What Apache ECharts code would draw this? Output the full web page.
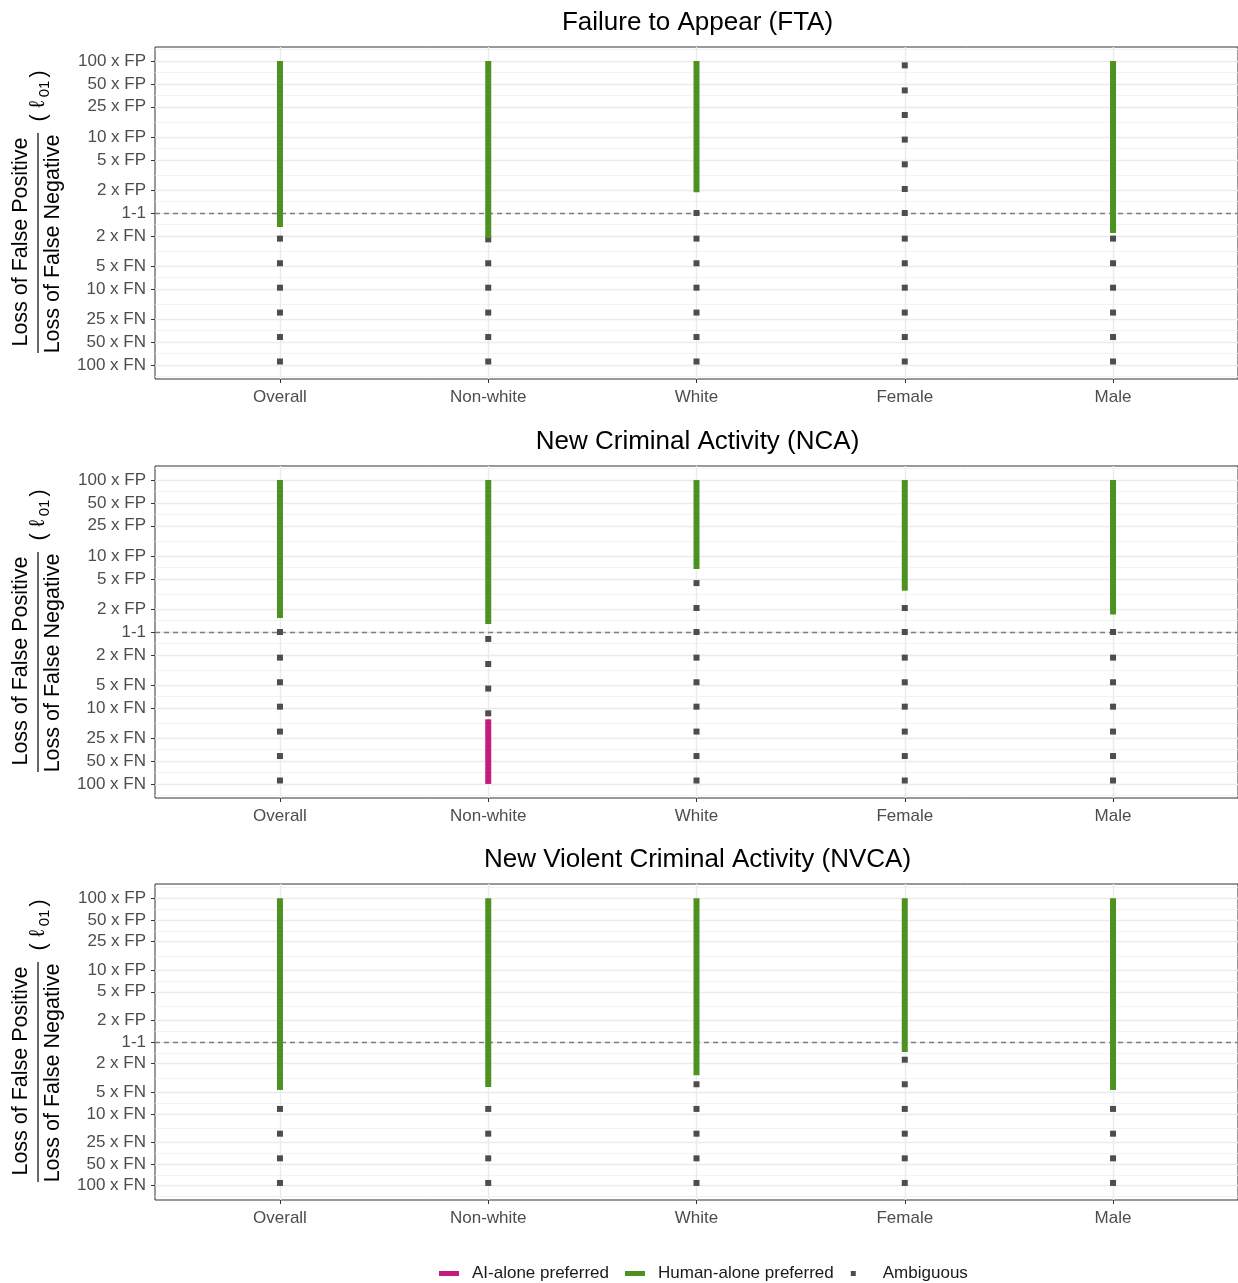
<!DOCTYPE html>
<html>
<head>
<meta charset="utf-8">
<script src="https://cdn.jsdelivr.net/npm/echarts@6/dist/echarts.min.js"></script>
<style>
html,body{margin:0;padding:0;background:#ffffff;}
#chart{width:1238px;height:1283px;}
</style>
</head>
<body>
<div id="chart"></div>
<script>
// ---------------- DATA ----------------
const categories = ['Overall', 'Non-white', 'White', 'Female', 'Male'];
const panelTitles = ['Failure to Appear (FTA)', 'New Criminal Activity (NCA)', 'New Violent Criminal Activity (NVCA)'];
const tickRatios = [100, 50, 25, 10, 5, 2, 1, 0.5, 0.2, 0.1, 0.04, 0.02, 0.01];
const tickLabels = ['100 x FP', '50 x FP', '25 x FP', '10 x FP', '5 x FP', '2 x FP', '1-1',
                    '2 x FN', '5 x FN', '10 x FN', '25 x FN', '50 x FN', '100 x FN'];
const refRatio = 1;
const legendNames = ['AI-alone preferred', 'Human-alone preferred', 'Ambiguous'];

// Ratio ranges [low, high] (loss FP / loss FN); null = none
const ftaHuman = [[0.655, 100], [0.47, 100], [1.87, 100], null, [0.545, 100]];
const ftaAI = [null, null, null, null, null];
const ftaAmbiguous = [
  [0.46, 0.218, 0.104, 0.0489, 0.0233, 0.0111],
  [0.45, 0.218, 0.104, 0.0489, 0.0233, 0.0111],
  [1, 0.46, 0.218, 0.104, 0.0489, 0.0233, 0.0111],
  [87.8, 41.1, 19.5, 9.25, 4.37, 2.07, 1, 0.46, 0.218, 0.104, 0.0489, 0.0233, 0.0111],
  [0.46, 0.218, 0.104, 0.0489, 0.0233, 0.0111]
];

const ncaHuman = [[1.53, 100], [1.27, 100], [6.75, 100], [3.5, 100], [1.7, 100]];
const ncaAI = [null, [0.01, 0.071], null, null, null];
const ncaAmbiguous = [
  [1, 0.46, 0.218, 0.104, 0.0489, 0.0233, 0.0111],
  [0.81, 0.379, 0.18, 0.085],
  [4.4, 2.07, 1, 0.46, 0.218, 0.104, 0.0489, 0.0233, 0.0111],
  [2.07, 1, 0.46, 0.218, 0.104, 0.0489, 0.0233, 0.0111],
  [1, 0.46, 0.218, 0.104, 0.0489, 0.0233, 0.0111]
];

const nvcaHuman = [[0.215, 100], [0.236, 100], [0.344, 100], [0.726, 100], [0.215, 100]];
const nvcaAI = [null, null, null, null, null];
const nvcaAmbiguous = [
  [0.117, 0.0529, 0.024, 0.0109],
  [0.117, 0.0529, 0.024, 0.0109],
  [0.258, 0.117, 0.0529, 0.024, 0.0109],
  [0.567, 0.258, 0.117, 0.0529, 0.024, 0.0109],
  [0.117, 0.0529, 0.024, 0.0109]
];

// ---------------- LAYOUT / STYLE ----------------
const panelData = [
  {human: ftaHuman, ai: ftaAI, amb: ftaAmbiguous},
  {human: ncaHuman, ai: ncaAI, amb: ncaAmbiguous},
  {human: nvcaHuman, ai: nvcaAI, amb: nvcaAmbiguous}
];
const panels = [
  {top: 47, height: 332, ext: 2.185},
  {top: 466, height: 332, ext: 2.185},
  {top: 884, height: 316, ext: 2.2}
];
const LEFT = 155;
const FONT = '"Liberation Sans", Arial, Helvetica, sans-serif';
const COL_AI = '#C51B7D', COL_HUMAN = '#4D9221', COL_AMB = '#4D4D4D';

const lg = v => Math.log10(v);
const tickLogs = tickRatios.map(lg);
const minorLogs = [];
minorLogs.push(tickLogs[0] + (tickLogs[0] - tickLogs[1]) / 2);
for (let i = 0; i < tickLogs.length - 1; i++) minorLogs.push((tickLogs[i] + tickLogs[i + 1]) / 2);
const nT = tickLogs.length;
minorLogs.push(tickLogs[nT - 1] + (tickLogs[nT - 1] - tickLogs[nT - 2]) / 2);
const catIdx = categories.map((c, i) => i);

function tickLabelFor(v) {
  for (let i = 0; i < tickLogs.length; i++) if (Math.abs(tickLogs[i] - v) < 1e-6) return tickLabels[i];
  return '';
}

function barRender(params, api) {
  const x = api.value(0);
  const top = api.coord([x, api.value(2)]);
  const bot = api.coord([x, api.value(1)]);
  const w = 6;
  return {
    type: 'rect',
    shape: {x: top[0] - w / 2, y: top[1], width: w, height: bot[1] - top[1]},
    style: {fill: api.visual('color')}
  };
}

const grids = [], xAxes = [], yAxes = [], series = [], titles = [], graphics = [];

panels.forEach((p, k) => {
  grids.push({left: LEFT, right: 0, top: p.top, height: p.height, show: true,
              borderColor: '#333333', borderWidth: 1, backgroundColor: 'transparent'});
  xAxes.push({
    type: 'value', gridIndex: k, min: -0.6, max: 4.6, position: 'bottom',
    axisLine: {show: false, onZero: false},
    axisTick: {show: true, length: 4, customValues: catIdx, lineStyle: {color: '#333333', width: 1}},
    axisLabel: {show: true, customValues: catIdx, margin: 10, color: '#4D4D4D', fontSize: 17, fontFamily: FONT,
                formatter: v => categories[Math.round(v)]},
    splitLine: {show: true, customValues: catIdx, lineStyle: {color: '#EBEBEB', width: 1.4}}
  });
  yAxes.push({
    type: 'value', gridIndex: k, min: -p.ext, max: p.ext, position: 'left',
    axisLine: {show: false, onZero: false},
    axisTick: {show: true, length: 4, customValues: tickLogs, lineStyle: {color: '#333333', width: 1}},
    axisLabel: {show: true, customValues: tickLogs, margin: 9, color: '#4D4D4D', fontSize: 17, fontFamily: FONT,
                formatter: v => tickLabelFor(v)},
    splitLine: {show: true, customValues: tickLogs, lineStyle: {color: '#EBEBEB', width: 1.4}}
  });
  yAxes.push({
    type: 'value', gridIndex: k, min: -p.ext, max: p.ext, position: 'right',
    axisLine: {show: false, onZero: false},
    axisTick: {show: false, customValues: minorLogs},
    axisLabel: {show: false, customValues: minorLogs},
    splitLine: {show: true, customValues: minorLogs, lineStyle: {color: '#F0F0F0', width: 0.8}}
  });

  const d = panelData[k];
  const aiData = [], humanData = [], ambData = [];
  catIdx.forEach(i => {
    if (d.ai[i]) aiData.push([i, lg(d.ai[i][0]), lg(d.ai[i][1])]);
    if (d.human[i]) humanData.push([i, lg(d.human[i][0]), lg(d.human[i][1])]);
    d.amb[i].forEach(v => ambData.push([i, lg(v)]));
  });

  series.push({
    name: legendNames[2], type: 'scatter', xAxisIndex: k, yAxisIndex: 2 * k,
    symbol: 'rect', symbolSize: 6, itemStyle: {color: COL_AMB, opacity: 1}, z: 3, silent: true,
    data: ambData,
    markLine: {
      silent: true, z: 1, symbol: 'none', label: {show: false},
      lineStyle: {color: '#7F7F7F', width: 1.3, type: [5, 4]},
      emphasis: {disabled: true},
      data: [{yAxis: lg(refRatio)}]
    }
  });
  series.push({
    name: legendNames[0], type: 'custom', xAxisIndex: k, yAxisIndex: 2 * k,
    itemStyle: {color: COL_AI}, z: 4, silent: true,
    encode: {x: 0, y: [1, 2]}, renderItem: barRender, data: aiData
  });
  series.push({
    name: legendNames[1], type: 'custom', xAxisIndex: k, yAxisIndex: 2 * k,
    itemStyle: {color: COL_HUMAN}, z: 4, silent: true,
    encode: {x: 0, y: [1, 2]}, renderItem: barRender, data: humanData
  });

  titles.push({
    text: panelTitles[k], left: LEFT + 1083 / 2 - 4, textAlign: 'center', top: p.top - 42,
    textStyle: {color: '#000000', fontSize: 26, fontWeight: 'normal', fontFamily: FONT}
  });

  const cy = p.top + p.height / 2;
  const tFont = {fontSize: 21.5, fontFamily: FONT, fill: '#000000', align: 'center', verticalAlign: 'middle'};
  graphics.push({type: 'text', x: 21, y: cy + 29, rotation: Math.PI / 2,
                 style: Object.assign({text: 'Loss of False Positive'}, tFont)});
  graphics.push({type: 'text', x: 53, y: cy + 31, rotation: Math.PI / 2,
                 style: Object.assign({text: 'Loss of False Negative'}, tFont)});
  graphics.push({type: 'line', shape: {x1: 38, y1: cy - 80, x2: 38, y2: cy + 140},
                 style: {stroke: '#000000', lineWidth: 1.2}});
  graphics.push({type: 'text', x: 39, y: cy - 95, rotation: Math.PI / 2,
                 style: Object.assign({text: '('}, tFont)});
  graphics.push({type: 'text', x: 38, y: cy - 109, rotation: Math.PI / 2,
                 style: Object.assign({text: 'ℓ'}, tFont)});
  graphics.push({type: 'text', x: 45, y: cy - 124, rotation: Math.PI / 2,
                 style: Object.assign({}, tFont, {text: '01', fontSize: 15})});
  graphics.push({type: 'text', x: 39, y: cy - 139, rotation: Math.PI / 2,
                 style: Object.assign({text: ')'}, tFont)});
});

const chart = echarts.init(document.getElementById('chart'), null, {renderer: 'canvas'});
chart.setOption({
  animation: false,
  backgroundColor: '#ffffff',
  title: titles,
  grid: grids,
  xAxis: xAxes,
  yAxis: yAxes,
  legend: {
    left: 434, top: 1260, itemGap: 16, itemWidth: 28, itemHeight: 5,
    selectedMode: false,
    textStyle: {color: '#1A1A1A', fontSize: 17, fontFamily: FONT},
    data: [
      {name: legendNames[0], icon: 'path://M0,0h20v5h-20z M28,5', itemStyle: {color: COL_AI, borderWidth: 0}},
      {name: legendNames[1], icon: 'path://M0,0h20v5h-20z M28,5', itemStyle: {color: COL_HUMAN, borderWidth: 0}},
      {name: legendNames[2], icon: 'path://M0,0 M28,5 M1,0h5v5h-5z', itemStyle: {color: COL_AMB, borderWidth: 0}}
    ]
  },
  graphic: graphics,
  series: series
});
</script>
</body>
</html>
